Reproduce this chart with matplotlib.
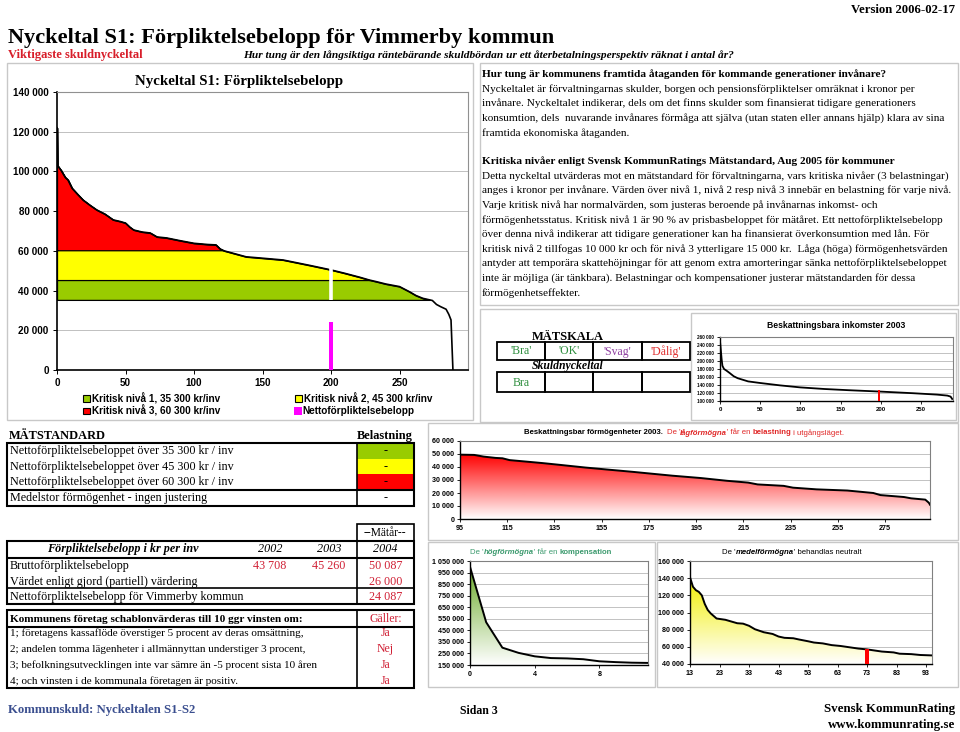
import numpy as np
import matplotlib
matplotlib.use("Agg")
import matplotlib.pyplot as plt
from matplotlib.patches import Rectangle, Polygon
from matplotlib.colors import LinearSegmentedColormap

W, H = 960, 732
SERIF = 'Liberation Serif'
SANS = 'Liberation Sans'
RED_TXT = '#d02035'

# Huvuddiagram: förpliktelsebelopp per kommun i fallande ordning (kr/inv)
rank = [0, 0.3, 1, 3, 6, 8, 11, 15, 19, 24, 29, 35, 41, 46, 50, 53, 56, 62, 68, 73,
        80, 90, 100, 110, 116, 119, 122, 130, 138, 150, 165, 175, 185, 200, 210, 221,
        228, 233, 240, 250, 257, 262, 267, 274, 277, 280, 284, 286, 287.6, 289]
forpl = [122000, 103000, 102400, 100500, 97000, 95700, 91500, 88500, 85600, 83000,
         80600, 78500, 75600, 74800, 74000, 72000, 70500, 69500, 69000, 67000,
         66500, 65100, 63800, 63200, 63000, 61000, 60000, 58500, 57000, 56300,
         55400, 54000, 52600, 50400, 48700, 46700, 45300, 44500, 43300, 42000,
         39500, 37500, 36100, 35000, 33000, 31900, 30600, 28000, 25200, 0]
levels = [35300, 45300, 60300]
level_labels = ['Kritisk nivå 1, 35 300 kr/inv', 'Kritisk nivå 2, 45 300 kr/inv',
                'Kritisk nivå 3, 60 300 kr/inv', 'Nettoförpliktelsebelopp']
vimmerby_rank = 200
netto = 24087

# Beskattningsbara inkomster 2003
ink_rank = [0, 1, 2, 3, 5, 8, 12, 17, 22, 35, 50, 75, 100, 130, 160, 200, 240, 270, 283, 287, 289]
ink_val = [250000, 228000, 205000, 188000, 180000, 176000, 170000, 162000, 157000, 149000,
           145000, 139000, 134000, 130000, 127000, 123500, 119500, 116000, 113500, 111000, 105000]
ink_vimmerby = 198
ink_bar = 128000

# Beskattningsbar förmögenhet, lågförmögna
low_rank = [95, 101, 105, 110, 113, 116, 124, 130, 137, 148, 157, 168, 177, 185, 197, 208,
            217, 221, 232, 236, 246, 259, 270, 273, 283, 286, 292, 293.5, 294]
low_val = [49500, 49300, 48000, 47000, 46700, 45300, 44000, 43000, 41700, 39600, 38100, 36300,
           34700, 33300, 31500, 29400, 28000, 26600, 25500, 24100, 22800, 21900, 20000, 18400,
           16900, 15900, 14900, 12500, 11000]

# Högförmögna
high_rank = [0, 1, 2, 3, 4, 5, 6, 7, 8, 9, 10, 11]
high_val = [1000000, 520000, 300000, 255000, 225000, 210000, 207000, 200000, 182000, 175000, 170000, 168000]

# Medelförmögna
mid_rank = [13, 14, 15, 16, 17, 18, 19, 20, 22, 25, 27, 29, 31, 33, 35, 38, 41, 43, 45, 48, 50,
            53, 55, 58, 61, 64, 67, 70, 73, 76, 78, 82, 84, 88, 91, 95]
mid_val = [141000, 130000, 126000, 124000, 120000, 110000, 103000, 99000, 93000, 91500, 89500,
           87500, 87000, 84500, 80500, 77000, 75000, 72000, 70500, 70000, 68500, 66500, 65000,
           64000, 62000, 61000, 59500, 58000, 57000, 55500, 54500, 53500, 52000, 51500, 50500, 50000]
mid_vimmerby = 73
mid_bar = 57000

# Tabeller
std_rows = ['Nettoförpliktelsebeloppet över 35 300 kr / inv',
            'Nettoförpliktelsebeloppet över 45 300 kr / inv',
            'Nettoförpliktelsebeloppet över 60 300 kr / inv',
            'Medelstor förmögenhet - ingen justering']
std_vals = ['-', '-', '-', '-']
std_colors = ['#99cc00', '#ffff00', '#ff0000', 'white']
years = ['2002', '2003', '2004']
belopp_rows = ['Bruttoförpliktelsebelopp', 'Värdet enligt gjord (partiell) värdering',
               'Nettoförpliktelsebelopp för Vimmerby kommun']
belopp_vals = [['43 708', '45 260', '50 087'], ['', '', '26 000'], ['', '', '24 087']]
villkor = ['1; företagens kassaflöde överstiger 5 procent av deras omsättning,',
           '2; andelen tomma lägenheter i allmännyttan understiger 3 procent,',
           '3; befolkningsutvecklingen inte var sämre än -5 procent sista 10 åren',
           '4; och vinsten i de kommunala företagen är positiv.']
villkor_svar = ['Ja', 'Nej', 'Ja', 'Ja']
skala = ["'Bra'", "'OK'", "'Svag'", "'Dålig'"]
skala_colors = ['#2f8f3f', '#2f8f3f', '#8e3fa0', '#e03030']

text1 = ["Nyckeltalet är förvaltningarnas skulder, borgen och pensionsförpliktelser omräknat i kronor per",
         "invånare. Nyckeltalet indikerar, dels om det finns skulder som finansierat tidigare generationers",
         "konsumtion, dels  nuvarande invånares förmåga att själva (utan staten eller annans hjälp) klara av sina",
         "framtida ekonomiska åtaganden."]
text2 = ["Detta nyckeltal utvärderas mot en mätstandard för förvaltningarna, vars kritiska nivåer (3 belastningar)",
         "anges i kronor per invånare. Värden över nivå 1, nivå 2 resp nivå 3 innebär en belastning för varje nivå.",
         "Varje kritisk nivå har normalvärden, som justeras beroende på invånarnas inkomst- och",
         "förmögenhetsstatus. Kritisk nivå 1 är 90 % av prisbasbeloppet för mätåret. Ett nettoförpliktelsebelopp",
         "över denna nivå indikerar att tidigare generationer kan ha finansierat överkonsumtion med lån. För",
         "kritisk nivå 2 tillfogas 10 000 kr och för nivå 3 ytterligare 15 000 kr.  Låga (höga) förmögenhetsvärden",
         "antyder att temporära skattehöjningar för att genom extra amorteringar sänka nettoförpliktelsebeloppet",
         "inte är möjliga (är tänkbara). Belastningar och kompensationer justerar mätstandarden för dessa",
         "förmögenhetseffekter."]


def ax_px(x0, y0, x1, y1):
    return fig.add_axes([x0 / W, 1 - y1 / H, (x1 - x0) / W, (y1 - y0) / H])


def fmt(v):
    return f"{v:,}".replace(',', ' ')


def T(x, y, s, size=8, family=SERIF, **kw):
    kw.setdefault('va', 'center')
    return bg.text(x, y, s, fontsize=size, family=family, **kw)


def frame(x0, y0, x1, y1, color='#c8c8c8', lw=1.0, fc='none', z=1):
    bg.add_patch(Rectangle((x0, y0), x1 - x0, y1 - y0, fill=fc != 'none', facecolor=fc,
                           edgecolor=color, lw=lw, zorder=z))


def hline(x0, x1, y, lw=1.0):
    bg.plot([x0, x1], [y, y], color='black', lw=lw, solid_capstyle='butt', zorder=3)


def vline(x, y0, y1, lw=1.0):
    bg.plot([x, x], [y0, y1], color='black', lw=lw, solid_capstyle='butt', zorder=3)


def rich(x, y, parts, size, family=SANS, center=True):
    r = fig.canvas.get_renderer()
    arts = []
    for s, c, w, st in parts:
        arts.append(bg.text(0, y, s, fontsize=size, color=c, fontweight=w, fontstyle=st,
                            family=family, va='center', ha='left'))
    widths = [t.get_window_extent(r).width for t in arts]
    x0 = x - sum(widths) / 2 if center else x
    for t, w in zip(arts, widths):
        t.set_x(x0)
        x0 += w


def style_small(ax, xlim, xticks, ylim, yticks, fs, xfs=None):
    ax.set_xlim(*xlim)
    ax.set_ylim(*ylim)
    ax.set_xticks(xticks)
    ax.set_yticks(yticks)
    ax.set_yticklabels([fmt(v) for v in yticks], fontsize=fs, fontweight='bold', family=SANS)
    ax.set_xticklabels([str(v) for v in xticks], fontsize=xfs or fs, fontweight='bold', family=SANS)
    ax.grid(axis='y', color='#b8b8b8', lw=0.6)
    ax.set_axisbelow(True)
    ax.tick_params(length=2, width=0.6, pad=2)
    for sp in ['top', 'right']:
        ax.spines[sp].set_color('#808080')
        ax.spines[sp].set_linewidth(0.8)
    for sp in ['left', 'bottom']:
        ax.spines[sp].set_color('black')
        ax.spines[sp].set_linewidth(1.0)


def grad_fill(ax, x, y, y0, color):
    verts = [(x[0], y0)] + list(zip(x, y)) + [(x[-1], y0)]
    poly = Polygon(verts, closed=True, facecolor='none', edgecolor='none')
    ax.add_patch(poly)
    cmap = LinearSegmentedColormap.from_list('g', ['white', color])
    im = ax.imshow(np.linspace(0, 1, 256).reshape(-1, 1), extent=[x[0], x[-1], y0, max(y)],
                   origin='lower', aspect='auto', cmap=cmap, zorder=1.5)
    im.set_clip_path(poly)


fig = plt.figure(figsize=(W / 100, H / 100), dpi=100)
bg = fig.add_axes([0, 0, 1, 1])
bg.set_xlim(0, W)
bg.set_ylim(H, 0)
bg.axis('off')

# ---- rubriker
T(8, 43, 'Nyckeltal S1: Förpliktelsebelopp för Vimmerby kommun', 16.1, fontweight='bold', va='baseline')
T(955, 10, 'Version 2006-02-17', 9.2, fontweight='bold', ha='right')
T(8, 58, 'Viktigaste skuldnyckeltal', 9, fontweight='bold', color='#d81e2a', va='baseline')
T(243, 58, 'Hur tung är den långsiktiga räntebärande skuldbördan ur ett återbetalningsperspektiv räknat i antal år?',
  8.2, fontweight='bold', fontstyle='italic', va='baseline')

# ---- ramar
frame(7, 63, 473, 420)
frame(480, 63, 958, 305)
frame(480, 309, 958, 422)
frame(691, 313, 956, 420)
frame(428, 423, 958, 540)
frame(428, 542, 655, 687)
frame(657, 542, 958, 687)

# ---- huvuddiagram
ax = ax_px(57, 92, 468, 370)
x = np.array(rank)
y = np.array(forpl)
fills = ['#99cc00', '#ffff00', '#ff0000']
for lev, c in zip(levels, fills):
    ax.fill_between(x, lev, y, where=y > lev, interpolate=True, facecolor=c,
                    edgecolor='black', lw=0.9, zorder=2)
ax.plot(x, y, color='black', lw=1.2, zorder=3)
ax.vlines(vimmerby_rank, levels[0] - 200, 51200, color='white', lw=2.6, zorder=4)
ax.bar(vimmerby_rank, netto, width=3, color='#ff00ff', zorder=4)
ax.set_xlim(0, 300)
ax.set_ylim(0, 140000)
ax.set_yticks(range(0, 140001, 20000))
ax.set_yticklabels([fmt(v) for v in range(0, 140001, 20000)], fontsize=7.1, fontweight='bold', family=SANS)
ax.set_xticks(range(0, 251, 50))
ax.set_xticklabels([str(v) for v in range(0, 251, 50)], fontsize=7.1, fontweight='bold', family=SANS)
ax.grid(axis='y', color='#c0c0c0', lw=0.7)
ax.set_axisbelow(True)
ax.tick_params(length=3, width=0.7, pad=3)
for sp in ['top', 'right']:
    ax.spines[sp].set_color('#909090')
ax.spines['left'].set_linewidth(1.2)
ax.spines['bottom'].set_linewidth(1.2)

T(239.5, 81.5, 'Nyckeltal S1: Förpliktelsebelopp', 10.7, fontweight='bold', ha='center')
T(72.7, 107, 'Kronor per', 8.2, fontweight='bold')
T(72.7, 120.7, 'invånare', 8.2, fontweight='bold')
for i, s in enumerate(['Kommuner', 'i fallande', 'rangordning']):
    T(412.7, 196.7 + 13.3 * i, s, 7.1, fontweight='bold')

# legend
leg_pos = [(83, 398.3), (295, 398.3), (83, 411), (294, 411)]
leg_cols = fills + ['#ff00ff']
for (lx, ly), c, s in zip(leg_pos, leg_cols, level_labels):
    if c == '#ff00ff':
        bg.add_patch(Rectangle((lx, ly - 4), 8, 8, facecolor=c, edgecolor='none', zorder=3))
    else:
        bg.add_patch(Rectangle((lx, ly - 3.2), 6.5, 6.5, facecolor=c, edgecolor='black', lw=0.8, zorder=3))
    T(lx + 8.5, ly, s, 7.2, family=SANS, fontweight='bold')

# ---- textruta
T(482, 74, 'Hur tung är kommunens framtida åtaganden för kommande generationer invånare?', 8.1, fontweight='bold')
for i, s in enumerate(text1):
    T(482, 89 + 14.6 * i, s, 8.1)
T(482, 161, 'Kritiska nivåer enligt Svensk KommunRatings Mätstandard, Aug 2005 för kommuner', 8.1, fontweight='bold')
for i, s in enumerate(text2):
    T(482, 176 + 14.6 * i, s, 8.1)

# ---- mätskala
T(568, 337, 'MÄTSKALA', 9, fontweight='bold', ha='center')
cell_x = [497, 545, 593, 642, 690]
for i in range(4):
    frame(cell_x[i], 342, cell_x[i + 1], 360, color='black', lw=1.3, z=3)
    frame(cell_x[i], 372, cell_x[i + 1], 392, color='black', lw=1.3, z=3)
    T((cell_x[i] + cell_x[i + 1]) / 2, 351.5, skala[i], 8.5, color=skala_colors[i], ha='center')
T(568, 366.5, 'Skuldnyckeltal', 8.5, fontweight='bold', fontstyle='italic', ha='center')
T(521, 382.5, 'Bra', 8.5, color=skala_colors[0], ha='center')

# ---- inkomster
ax = ax_px(720, 337, 953, 401)
ax.plot(ink_rank, ink_val, color='black', lw=1.3, zorder=3)
ax.bar(ink_vimmerby, ink_bar - 100000, bottom=100000, width=3, color='#ff0000', zorder=4)
style_small(ax, (0, 290), range(0, 251, 50), (100000, 260000), range(100000, 260001, 20000), 3.3, 4.3)
T(836, 326, 'Beskattningsbara inkomster 2003', 6.2, family=SANS, fontweight='bold', ha='center')
T(740, 341, 'Kr / inv', 3.6, family=SANS, fontweight='bold')
T(949, 366, 'Antal i fallande ordning', 4.3, family=SANS, fontweight='bold', ha='right')

# ---- lågförmögna
ax = ax_px(460, 441, 930, 519)
grad_fill(ax, low_rank, low_val, 0, '#ff0000')
ax.plot(low_rank, low_val, color='black', lw=1.4, zorder=3)
style_small(ax, (95, 294), range(95, 276, 20), (0, 60000), range(0, 60001, 10000), 5.1)
rich(684, 433, [('Beskattningsbar förmögenheter 2003.  ', 'black', 'bold', 'normal'),
                ("De '", '#e02828', 'normal', 'normal'),
                ('lågförmögna', '#e02828', 'bold', 'italic'),
                ("' får en ", '#e02828', 'normal', 'normal'),
                ('belastning', '#e02828', 'bold', 'normal'),
                (' i utgångsläget.', '#e02828', 'normal', 'normal')], 5.6)
T(483, 446, 'Kr / inv', 5, family=SANS, fontweight='bold')
T(918, 472, 'Antal i fallande ordning', 5, family=SANS, fontweight='bold', ha='right')

# ---- högförmögna
ax = ax_px(470, 561, 648, 665)
grad_fill(ax, high_rank, high_val, 150000, '#6aaa28')
ax.plot(high_rank, high_val, color='black', lw=1.4, zorder=3)
style_small(ax, (0, 11), [0, 4, 8], (150000, 1050000), range(150000, 1050001, 100000), 5.1)
rich(541, 553, [("De '", '#3c9a6e', 'normal', 'normal'),
                ('högförmögna', '#3c9a6e', 'bold', 'italic'),
                ("' får en ", '#3c9a6e', 'normal', 'normal'),
                ('kompensation', '#3c9a6e', 'bold', 'normal')], 5.6)
T(490, 568, 'Kr / inv', 5, family=SANS, fontweight='bold')
T(637, 635, 'Antal i fallande ordning', 5, family=SANS, fontweight='bold', ha='right')

# ---- medelförmögna
ax = ax_px(690, 561, 932, 664)
grad_fill(ax, mid_rank, mid_val, 40000, '#f2ee00')
ax.plot(mid_rank, mid_val, color='black', lw=1.4, zorder=3)
ax.bar(mid_vimmerby, mid_bar - 40000, bottom=40000, width=1.2, color='#ff0000', zorder=4)
style_small(ax, (13, 95), range(13, 94, 10), (40000, 160000), range(40000, 160001, 20000), 5.1)
rich(792, 553, [("De '", 'black', 'normal', 'normal'),
                ('medelförmögna', 'black', 'bold', 'italic'),
                ("' behandlas neutralt", 'black', 'normal', 'normal')], 5.6)
T(707, 571, 'Kr / inv', 5, family=SANS, fontweight='bold')
T(920, 620, 'Antal i fallande ordning', 5, family=SANS, fontweight='bold', ha='right')

# ---- tabell: mätstandard
L, D, R = 7, 356.7, 414
T(9, 436, 'MÄTSTANDARD', 8.9, fontweight='bold')
T(413, 436, 'Belastning', 8.9, fontweight='bold', ha='right')
ry = [443.3, 459, 474.3, 490, 506]
for i in range(4):
    bg.add_patch(Rectangle((D, ry[i]), R - D, ry[i + 1] - ry[i], facecolor=std_colors[i], edgecolor='none', zorder=2))
    T(9.5, (ry[i] + ry[i + 1]) / 2, std_rows[i], 8.7)
    T((D + R) / 2, (ry[i] + ry[i + 1]) / 2, std_vals[i], 8.7, ha='center')
frame(L, ry[0], R, ry[-1], color='black', lw=1.5, z=3)
hline(L, R, ry[3], 1.5)
vline(D, ry[0], ry[-1], 1.2)

# ---- tabell: förpliktelsebelopp
frame(D, 524.3, R, 540.7, color='black', lw=1.2, z=3)
T((D + R) / 2, 532.7, '--Mätår--', 8.3, ha='center')
frame(L, 540.7, R, 604.3, color='black', lw=1.5, z=3)
hline(L, R, 557.7, 1.5)
hline(L, R, 588.3, 1.2)
vline(D, 540.7, 604.3, 1.2)
col_x = [270, 329, 385.5]
T(123, 549.3, 'Förpliktelsebelopp i kr per inv', 8.7, fontweight='bold', fontstyle='italic', ha='center')
for cx, yr in zip(col_x, years):
    T(cx, 549.3, yr, 8.7, fontstyle='italic', ha='center')
for i, (lab, vals) in enumerate(zip(belopp_rows, belopp_vals)):
    yy = [566, 581.7, 596.7][i]
    T(9.5, yy, lab, 8.7)
    for cx, v in zip(col_x, vals):
        T(cx, yy, v, 8.7, color=RED_TXT, ha='center')

# ---- tabell: villkor
frame(L, 610, R, 687.7, color='black', lw=1.5, z=3)
hline(L, R, 626.7, 1.5)
vline(D, 610, 687.7, 1.2)
T(9.5, 619.3, 'Kommunens företag schablonvärderas till 10 ggr vinsten om:', 8.1, fontweight='bold')
T((D + R) / 2, 619.3, 'Gäller:', 8.5, color=RED_TXT, ha='center')
for i, (lab, v) in enumerate(zip(villkor, villkor_svar)):
    yy = 633.3 + 15.8 * i
    T(9.5, yy, lab, 8.0)
    T((D + R) / 2, yy, v, 8.5, color=RED_TXT, ha='center')

# ---- sidfot
T(8, 710, 'Kommunskuld: Nyckeltalen S1-S2', 9.2, fontweight='bold', color='#3b4f8f')
T(479, 711, 'Sidan 3', 8.5, fontweight='bold', ha='center')
T(955, 709, 'Svensk KommunRating', 9.3, fontweight='bold', ha='right')
T(955, 725, 'www.kommunrating.se', 9.3, fontweight='bold', ha='right')

fig.savefig('out.png', dpi=100)
